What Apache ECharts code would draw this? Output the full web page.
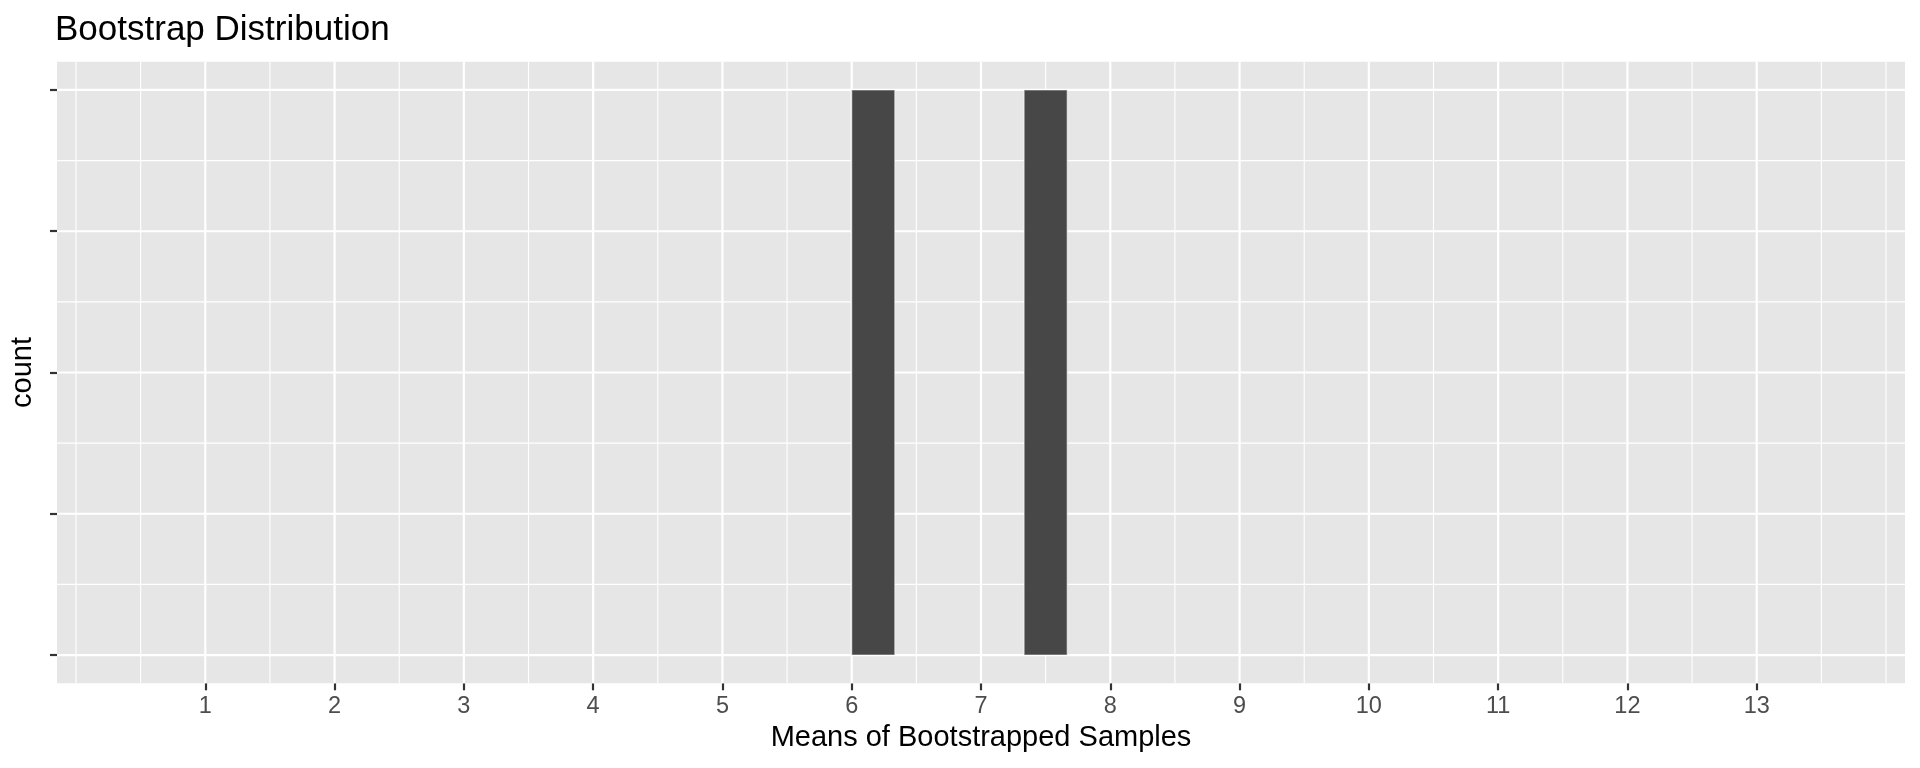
<!DOCTYPE html>
<html>
<head>
<meta charset="utf-8">
<script src="https://cdn.jsdelivr.net/npm/echarts@6/dist/echarts.min.js"></script>
<style>
  html, body { margin: 0; padding: 0; background: #ffffff; }
  #chart { width: 1920px; height: 768px; }
</style>
</head>
<body>
<div id="chart"></div>
<script>
// ---- Data ----
const binLeft  = [6.0, 7.3333];
const binRight = [6.3333, 7.6667];
const binCount = [1, 1];

const xTickValues = [1, 2, 3, 4, 5, 6, 7, 8, 9, 10, 11, 12, 13];
const xMinorValues = [0, 0.5, 1.5, 2.5, 3.5, 4.5, 5.5, 6.5, 7.5, 8.5, 9.5, 10.5, 11.5, 12.5, 13.5, 14];
const yTickValues = [0, 0.25, 0.5, 0.75, 1];
const yMinorValues = [0.125, 0.375, 0.625, 0.875];

const titleText = 'Bootstrap Distribution';
const xTitle = 'Means of Bootstrapped Samples';
const yTitle = 'count';

const FONT = '"Liberation Sans", Arial, Helvetica, sans-serif';

function vLines(width) {
  return function (params, api) {
    const cs = params.coordSys;
    const x = api.coord([api.value(0), 0])[0];
    return {
      type: 'line',
      shape: { x1: x, y1: cs.y, x2: x, y2: cs.y + cs.height },
      style: { stroke: '#ffffff', lineWidth: width }
    };
  };
}
function hLines(width) {
  return function (params, api) {
    const cs = params.coordSys;
    const y = api.coord([0, api.value(1)])[1];
    return {
      type: 'line',
      shape: { x1: cs.x, y1: y, x2: cs.x + cs.width, y2: y },
      style: { stroke: '#ffffff', lineWidth: width }
    };
  };
}

const chart = echarts.init(document.getElementById('chart'), null, { renderer: 'canvas' });

const option = {
  animation: false,
  backgroundColor: '#ffffff',
  title: {
    text: titleText,
    left: 55,
    top: 13,
    padding: 0,
    textStyle: { fontFamily: FONT, fontSize: 35, fontWeight: 'normal', color: '#000000' }
  },
  grid: {
    left: 56.7,
    right: 15,
    top: 61.7,
    bottom: 84.7,
    show: true,
    backgroundColor: '#E6E6E6',
    borderWidth: 0
  },
  xAxis: {
    type: 'value',
    min: -0.147,
    max: 14.147,
    name: xTitle,
    nameLocation: 'middle',
    nameGap: 40,
    nameTextStyle: { fontFamily: FONT, fontSize: 29, color: '#000000' },
    axisLine: { show: false, onZero: false },
    splitLine: { show: false },
    axisTick: {
      show: true,
      customValues: xTickValues,
      length: 7,
      lineStyle: { color: '#333333', width: 2.2 }
    },
    axisLabel: {
      show: true,
      customValues: xTickValues,
      margin: 11,
      fontFamily: FONT,
      fontSize: 23.5,
      color: '#4D4D4D'
    }
  },
  yAxis: {
    type: 'value',
    min: -0.05,
    max: 1.05,
    name: yTitle,
    nameLocation: 'middle',
    nameRotate: 90,
    nameGap: 20,
    nameTextStyle: { fontFamily: FONT, fontSize: 29, color: '#000000' },
    axisLine: { show: false, onZero: false },
    splitLine: { show: false },
    axisTick: {
      show: true,
      customValues: yTickValues,
      length: 7,
      lineStyle: { color: '#333333', width: 2.2 }
    },
    axisLabel: {
      show: true,
      customValues: yTickValues,
      formatter: function () { return ''; }
    }
  },
  series: [
    {
      type: 'custom', z: 1, silent: true,
      renderItem: hLines(1.1),
      data: yMinorValues.map(v => [0, v])
    },
    {
      type: 'custom', z: 1, silent: true,
      renderItem: vLines(1.1),
      data: xMinorValues.map(v => [v, 0])
    },
    {
      type: 'custom', z: 2, silent: true,
      renderItem: hLines(2.2),
      data: yTickValues.map(v => [0, v])
    },
    {
      type: 'custom', z: 2, silent: true,
      renderItem: vLines(2.2),
      data: xTickValues.map(v => [v, 0])
    },
    {
      type: 'custom', z: 5,
      renderItem: function (params, api) {
        const p0 = api.coord([api.value(0), api.value(2)]);
        const p1 = api.coord([api.value(1), 0]);
        return {
          type: 'rect',
          shape: { x: p0[0], y: p0[1], width: p1[0] - p0[0], height: p1[1] - p0[1] },
          style: { fill: '#474747', stroke: 'rgba(255,255,255,0.55)', lineWidth: 1.2 }
        };
      },
      encode: { x: [0, 1], y: 2 },
      data: binLeft.map((l, i) => [l, binRight[i], binCount[i]])
    }
  ]
};

chart.setOption(option);
</script>
</body>
</html>
